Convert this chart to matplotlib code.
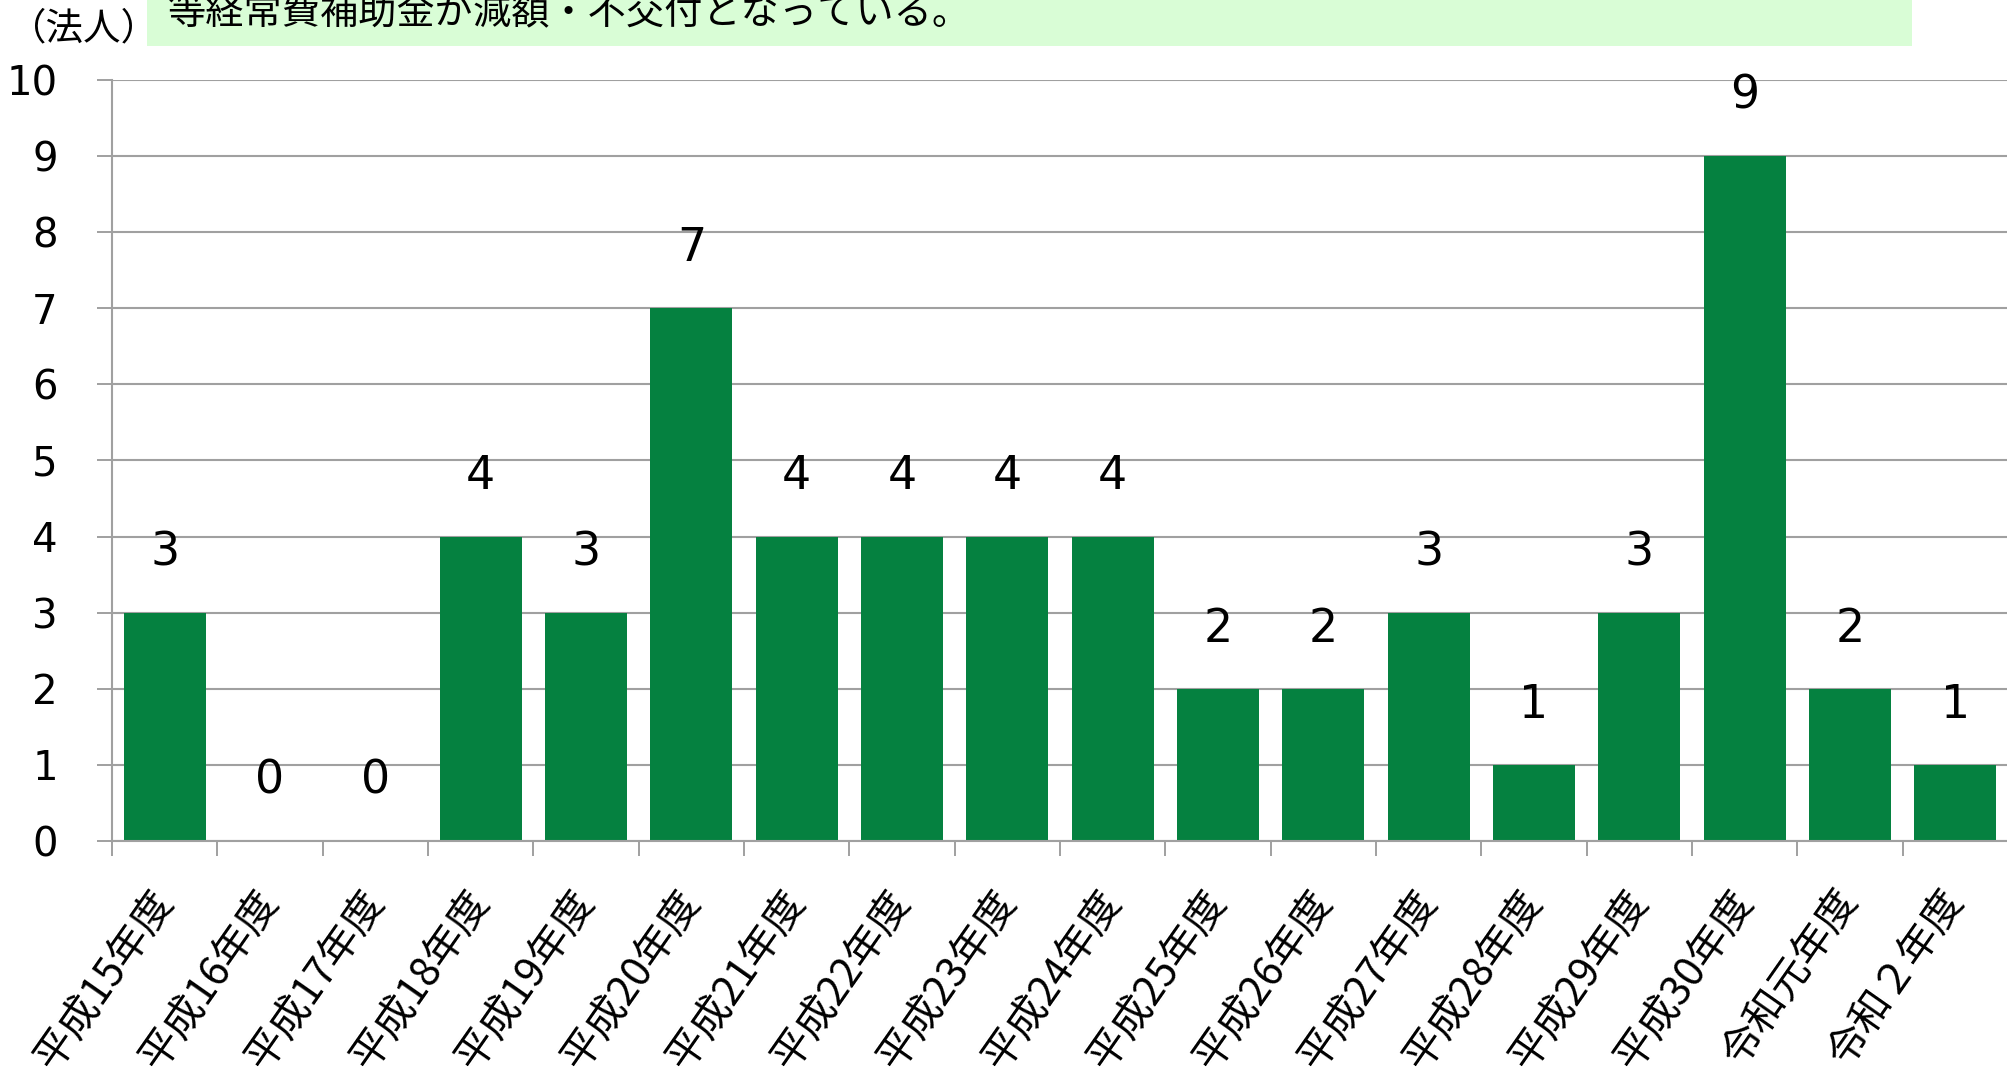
import matplotlib
matplotlib.use("Agg")
import matplotlib.pyplot as plt
import numpy as np

# data
years = ["平成15年度", "平成16年度", "平成17年度", "平成18年度", "平成19年度",
         "平成20年度", "平成21年度", "平成22年度", "平成23年度", "平成24年度",
         "平成25年度", "平成26年度", "平成27年度", "平成28年度", "平成29年度",
         "平成30年度", "令和元年度", "令和２年度"]
counts = [3, 0, 0, 4, 3, 7, 4, 4, 4, 4, 2, 2, 3, 1, 3, 9, 2, 1]
unit_label = "（法人）"
banner_text = "等経常費補助金が減額・不交付となっている。"

plt.rcParams['font.family'] = ['DejaVu Sans', 'Noto Sans CJK JP']
jp_font = ['Noto Sans CJK JP', 'DejaVu Sans']

W, H = 2008, 1087
fig = plt.figure(figsize=(W / 100, H / 100), dpi=100)
ax = fig.add_axes([112 / W, 1 - 841 / H, 1 - 112 / W, (841 - 80) / H])

bar_green = '#058140'
grid_grey = '#A0A0A0'

x = np.arange(len(years))
ax.bar(x, counts, width=0.78, color=bar_green, zorder=3)

# value labels above bars
for xi, v in zip(x, counts):
    ax.annotate(str(v), (xi, v), xytext=(0, 43), textcoords='offset points',
                ha='center', va='center', fontsize=33, color='black', zorder=5)

ax.set_xlim(-0.5, len(years) - 0.5)
ax.set_ylim(0, 10)

# y axis
ax.set_yticks(range(0, 11))
ax.tick_params(axis='y', which='major', length=11, width=1.4, color=grid_grey,
               labelsize=29, pad=28)
ax.grid(axis='y', color=grid_grey, linewidth=1.5, zorder=1)

# x axis: ticks at category boundaries, labels at centres
ax.set_xticks(np.arange(-0.5, len(years)), minor=False)
ax.set_xticklabels([])
ax.tick_params(axis='x', which='major', length=11, width=1.4, color=grid_grey)
ax.set_xticks(x, minor=True)
ax.set_xticklabels(years, minor=True)
ax.tick_params(axis='x', which='minor', length=0, pad=38)
for lbl in ax.get_xticklabels(minor=True):
    lbl.set_rotation(55)
    lbl.set_rotation_mode('anchor')
    lbl.set_ha('right')
    lbl.set_va('center')
    lbl.set_fontsize(29.5)
    lbl.set_family(jp_font)

for side in ['top', 'right']:
    ax.spines[side].set_visible(False)
for side in ['left', 'bottom']:
    ax.spines[side].set_color(grid_grey)
    ax.spines[side].set_linewidth(1.5)
    ax.spines[side].set_zorder(4)

# banner box at the top (cut off by the frame, as in the source slide)
fig.patches.append(plt.Rectangle((147 / W, 1 - 46 / H), (1912 - 147) / W, 46 / H,
                                 transform=fig.transFigure, facecolor='#D9FDD6',
                                 edgecolor='none', zorder=0))
fig.text(168 / W, 1 - 14 / H, banner_text, ha='left', va='center',
         fontsize=27.5, family=jp_font, color='black')
fig.text(84 / W, 1 - 29 / H, unit_label, ha='center', va='center',
         fontsize=27, family=jp_font, color='black')

fig.savefig("out.png", dpi=100)
